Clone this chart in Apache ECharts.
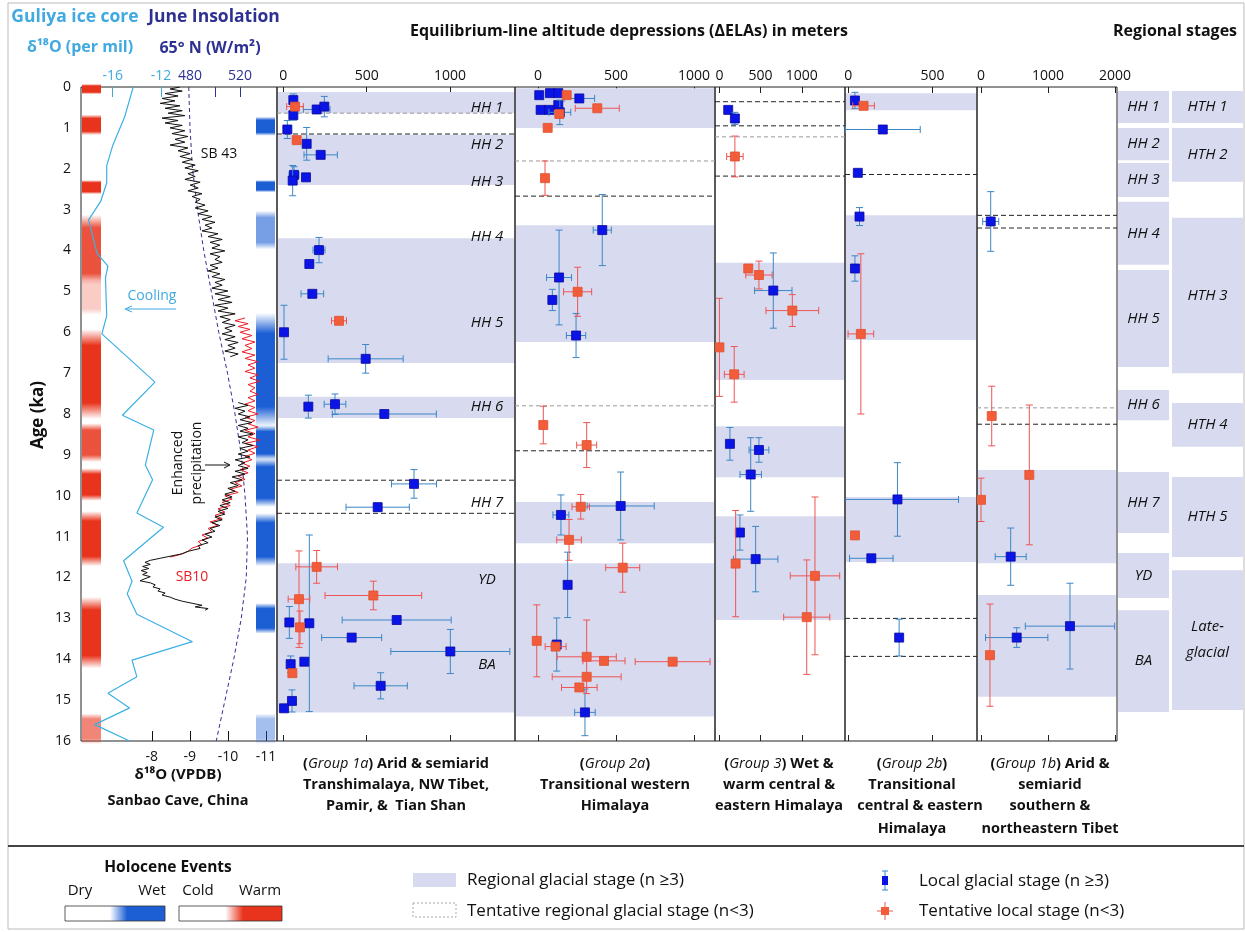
<!DOCTYPE html>
<html><head><meta charset="utf-8">
<script src="https://cdn.jsdelivr.net/npm/echarts@6/dist/echarts.min.js"></script>
<style>html,body{margin:0;padding:0;background:#fff}#c{width:1245px;height:932px}</style>
</head><body><div id="c"></div>
<script>
// ---------------- DATA ----------------
const ageTicksMax = 16;
// Guliya ice core d18O (per mil)
const guliyaAge = [0,0.72,1.43,1.93,2.35,2.8,3.25,4.07,4.38,4.67,5.6,6.04,7.22,8.03,8.39,9.25,9.61,10.42,10.77,11.59,12.09,12.4,12.9,13.57,14.02,14.43,14.83,15.19,15.6,16.0];
const guliyaD18O = [-14.3,-15.0,-16.0,-16.5,-16.5,-17.0,-18.0,-17.3,-16.4,-16.6,-16.5,-16.9,-12.5,-15.2,-12.6,-13.3,-12.7,-14.0,-11.8,-15.1,-14.4,-14.8,-14.0,-9.4,-14.4,-14.0,-16.4,-14.6,-17.5,-14.6];
// June insolation 65N (W/m2)
const insolAge = [0,1,2,3,4,5,6,7,8,9,10,11,12,13,14,15,16];
const insolJune65N = [479,480,482,486,491,497,503,510,516,521,524,526,525,521,515,508,501];
// Sanbao cave SB43 d18O (VPDB): [age, value] (two segments, record gap ~6.6-7.7 ka)
const sb43Late = [[0,-8.74],[0.05,-8.48],[0.1,-8.8],[0.16,-8.35],[0.22,-8.69],[0.28,-8.27],[0.34,-8.61],[0.4,-8.22],[0.46,-8.74],[0.52,-8.35],[0.58,-8.8],[0.64,-8.43],[0.7,-8.87],[0.76,-8.27],[0.82,-8.69],[0.88,-8.35],[0.94,-8.8],[1.0,-8.48],[1.07,-8.87],[1.14,-8.53],[1.21,-8.95],[1.28,-8.61],[1.35,-8.87],[1.42,-8.48],[1.49,-8.95],[1.56,-8.69],[1.63,-9.01],[1.7,-8.74],[1.77,-9.06],[1.84,-8.8],[1.91,-9.14],[1.98,-8.87],[2.05,-9.22],[2.12,-8.95],[2.19,-9.14],[2.26,-8.87],[2.33,-9.27],[2.4,-9.01],[2.47,-9.22],[2.54,-8.95],[2.61,-9.32],[2.68,-9.06],[2.75,-9.27],[2.82,-9.14],[2.89,-9.4],[2.96,-9.14],[3.03,-9.48],[3.1,-9.22],[3.17,-9.58],[3.24,-9.32],[3.31,-9.66],[3.38,-9.4],[3.45,-9.58],[3.52,-9.32],[3.59,-9.74],[3.66,-9.48],[3.73,-9.85],[3.8,-9.53],[3.87,-9.79],[3.94,-9.58],[4.01,-9.92],[4.08,-9.53],[4.15,-9.79],[4.22,-9.66],[4.29,-9.85],[4.36,-9.53],[4.43,-9.74],[4.5,-9.48],[4.57,-9.79],[4.64,-9.58],[4.71,-9.92],[4.78,-9.66],[4.85,-9.85],[4.92,-9.58],[4.99,-10.0],[5.06,-9.66],[5.13,-10.06],[5.2,-9.74],[5.27,-10.11],[5.34,-9.66],[5.41,-10.0],[5.48,-9.74],[5.55,-10.19],[5.62,-9.79],[5.69,-10.06],[5.76,-9.85],[5.83,-10.19],[5.9,-9.92],[5.97,-10.11],[6.04,-9.85],[6.11,-10.19],[6.18,-9.92],[6.25,-10.27],[6.32,-10.0],[6.39,-10.19],[6.46,-9.92],[6.53,-10.27],[6.6,-10.06]];
const sb43Early = [[7.72,-10.27],[7.79,-10.53],[7.86,-10.19],[7.93,-10.45],[8.0,-10.27],[8.07,-10.58],[8.14,-10.32],[8.21,-10.63],[8.28,-10.27],[8.35,-10.53],[8.42,-10.32],[8.49,-10.66],[8.56,-10.27],[8.63,-10.53],[8.7,-10.37],[8.77,-10.66],[8.84,-10.32],[8.91,-10.53],[8.98,-10.27],[9.05,-10.58],[9.12,-10.19],[9.19,-10.45],[9.26,-10.27],[9.33,-10.53],[9.4,-10.19],[9.47,-10.45],[9.54,-10.11],[9.61,-10.37],[9.68,-10.06],[9.75,-10.27],[9.82,-10.0],[9.89,-10.19],[9.96,-9.92],[10.03,-10.11],[10.1,-9.85],[10.17,-10.06],[10.24,-9.79],[10.31,-10.0],[10.38,-9.74],[10.45,-9.92],[10.52,-9.66],[10.59,-9.85],[10.66,-9.58],[10.73,-9.79],[10.8,-9.53],[10.87,-9.66],[10.94,-9.4],[11.01,-9.58],[11.08,-9.32],[11.15,-9.48],[11.22,-9.22],[11.29,-9.27],[11.36,-8.95],[11.42,-8.8],[11.48,-8.48],[11.53,-8.22],[11.58,-7.96],[11.63,-7.82],[11.68,-7.96],[11.73,-7.76],[11.78,-7.92],[11.83,-7.72],[11.88,-7.88],[11.93,-7.76],[11.98,-7.96],[12.03,-7.82],[12.08,-7.69],[12.13,-7.96],[12.18,-8.09],[12.23,-8.03],[12.28,-8.22],[12.33,-8.16],[12.38,-8.35],[12.43,-8.27],[12.48,-8.48],[12.53,-8.61],[12.58,-8.8],[12.63,-9.06],[12.68,-9.32],[12.72,-9.14],[12.76,-9.48],[12.8,-9.4]];
// Sanbao cave SB10 d18O (VPDB): [age, value]
const sb10 = [[5.65,-10.45],[5.72,-10.19],[5.79,-10.53],[5.86,-10.27],[5.93,-10.58],[6.0,-10.32],[6.08,-10.63],[6.16,-10.37],[6.24,-10.71],[6.32,-10.45],[6.4,-10.63],[6.48,-10.37],[6.56,-10.71],[6.64,-10.45],[6.72,-10.79],[6.8,-10.53],[6.88,-10.71],[6.96,-10.45],[7.04,-10.79],[7.12,-10.58],[7.2,-10.84],[7.28,-10.53],[7.36,-10.71],[7.44,-10.58],[7.52,-10.79],[7.6,-10.53],[7.68,-10.71],[7.76,-10.45],[7.84,-10.71],[7.92,-10.53],[8.0,-10.79],[8.08,-10.45],[8.16,-10.71],[8.24,-10.53],[8.32,-10.79],[8.4,-10.45],[8.48,-10.71],[8.56,-10.53],[8.64,-10.84],[8.72,-10.45],[8.8,-10.79],[8.88,-10.53],[8.96,-10.71],[9.04,-10.45],[9.12,-10.63],[9.2,-10.37],[9.28,-10.58],[9.36,-10.32],[9.44,-10.53],[9.52,-10.27],[9.6,-10.45],[9.68,-10.19],[9.76,-10.37],[9.84,-10.06],[9.92,-10.27],[10.0,-9.92],[10.08,-10.11],[10.16,-9.85],[10.24,-10.06],[10.32,-9.74],[10.4,-9.92],[10.48,-9.66],[10.56,-9.85],[10.64,-9.53],[10.72,-9.74],[10.8,-9.48],[10.88,-9.58],[10.96,-9.32],[11.04,-9.48],[11.12,-9.22],[11.2,-9.32],[11.28,-9.06],[11.36,-8.95],[11.44,-8.74],[11.5,-8.48]];
// Holocene events [startAge, endAge, strength]
const warmEvents = [[0,0.1,1],[0.75,1.1,1],[2.35,2.55,1],[3.2,4.8,0.85],[4.8,5.5,0.25],[6.0,8.05,1],[8.3,9.1,0.85],[9.4,10.05,1],[10.45,11.65,1],[12.55,14.15,1],[15.4,16,0.6]];
const wetEvents = [[0.8,1.12,1],[2.35,2.5,1],[3.1,3.9,0.6],[5.6,8.25,1],[8.35,9.05,1],[9.15,10.2,1],[10.5,11.65,1],[12.7,13.3,1],[15.4,16,0.4]];

// ELA points: [dELA (m), age (ka), dELA error, age error]
const g1aLocal = [[60,0.32,0,0.15],[60,0.69,0,0.12],[200,0.55,80,0],[246,0.48,0,0.25],[24,1.04,0,0.22],[140,1.39,0,0.4],[224,1.66,100,0],[64,2.15,30,0.2],[56,2.29,0,0.37],[136,2.21,0,0],[214,3.99,36,0.31],[156,4.33,0,0],[174,5.06,68,0],[4,6.0,0,0.66],[494,6.65,225,0.35],[150,7.82,0,0.28],[310,7.76,65,0.25],[606,8.0,312,0],[784,9.71,135,0.35],[566,10.28,190,0.1],[680,13.04,327,0],[36,13.1,0,0.39],[156,13.12,0,2.16],[410,13.47,180,0],[1002,13.81,357,0.54],[44,14.12,0,0.2],[126,14.06,0,0],[584,14.65,160,0.32],[52,15.02,0,0.27],[4,15.2,0,0]];
const g1aTentative = [[70,0.48,50,0],[80,1.3,0,0],[334,5.72,45,0],[200,11.74,125,0.4],[540,12.44,290,0.35],[94,12.53,65,1.18],[100,13.22,0,0.4],[54,14.34,0,0]];
const g2aLocal = [[8,0.2,0,0],[77,0.15,0,0],[130,0.15,0,0],[265,0.28,98,0],[17,0.56,0,0],[72,0.56,0,0],[130,0.44,0,0],[140,0.62,70,0.3],[412,3.5,58,0.87],[135,4.66,80,1.16],[92,5.21,0,0.26],[244,6.08,62,0.54],[530,10.25,215,0.83],[147,10.47,51,0.49],[190,12.18,0,0.8],[120,13.64,0,0.65],[301,15.3,66,0.57]];
const g2aTentative = [[184,0.2,0,0],[137,0.66,0,0],[380,0.52,141,0],[62,1.0,0,0],[45,2.23,0,0.42],[254,5.01,90,0.6],[34,8.27,0,0.46],[312,8.76,64,0.55],[274,10.27,56,0.3],[199,11.08,79,0.5],[543,11.76,109,0.6],[-8,13.55,0,0.88],[113,13.69,67,0],[312,13.94,190,0.9],[423,14.04,135,0],[863,14.06,240,0],[312,14.43,221,0],[265,14.69,114,0]];
const g3Local = [[107,0.56,0,0],[188,0.77,0,0.15],[654,4.98,227,0.92],[128,8.73,0,0.4],[480,8.88,120,0.3],[380,9.48,130,0.9],[249,10.9,0,0.43],[440,11.55,270,0.8]];
const g3Tentative = [[188,1.7,100,0.5],[350,4.44,0,0],[480,4.6,160,0.34],[885,5.47,320,0.39],[0,6.37,0,1.2],[180,7.03,120,0.68],[197,11.66,0,1.3],[1160,11.96,300,1.93],[1060,12.97,280,1.4]];
const g2bLocal = [[40,0.33,0,0.2],[205,1.04,222,0],[57,2.1,0,0],[67,3.17,0,0.22],[40,4.44,0,0.31],[292,10.09,362,0.9],[137,11.53,129,0],[302,13.47,0,0.45]];
const g2bTentative = [[91,0.46,64,0],[75,6.04,76,1.96],[40,10.97,0,0]];
const g1bLocal = [[145,3.29,120,0.73],[443,11.49,231,0.7],[1328,13.19,667,1.05],[533,13.47,465,0.24]];
const g1bTentative = [[160,8.05,0,0.73],[721,9.49,0,1.71],[0,10.1,0,0.53],[134,13.9,0,1.25]];

// Regional glacial stages [startAge, endAge] and tentative stage lines (age)
const g1aBands = [[0.12,0.64],[1.17,2.4],[3.7,6.75],[7.58,8.1],[11.65,15.3]];
const g1aDashed = [1.15,9.62,10.43];
const g1aFaint = [0.64];
const g2aBands = [[0.03,1.0],[3.38,6.24],[10.15,11.16],[11.65,15.4]];
const g2aDashed = [2.67,8.9];
const g2aFaint = [1.81,7.8];
const g3Bands = [[4.3,7.17],[8.3,9.55],[10.5,13.04]];
const g3Dashed = [0.36,0.95,2.18];
const g3Faint = [1.22];
const g2bBands = [[0.15,0.57],[3.14,6.19],[10.03,11.62]];
const g2bDashed = [2.14,13.0,13.93];
const g2bFaint = [];
const g1bBands = [[9.37,11.65],[12.43,14.92]];
const g1bDashed = [3.14,3.45,8.25];
const g1bFaint = [7.85];

// Stage labels in group 1a panel [label, age]
const g1aStageLabels = [['HH 1',0.51],['HH 2',1.42],['HH 3',2.32],['HH 4',3.67],['HH 5',5.77],['HH 6',7.83],['HH 7',10.18],['YD',12.06],['BA',14.14]];
// Regional stages [label, start, end]
const stagesHH = [['HH 1',0.1,0.88],['HH 2',1.0,1.79],['HH 3',1.86,2.69],['HH 4',2.81,4.35],['HH 5',4.48,6.85],['HH 6',7.41,8.15],['HH 7',9.42,10.91],['YD',11.4,12.5],['BA',12.8,15.29]];
const stagesHTH = [['HTH 1',0.1,0.88],['HTH 2',1.0,2.32],['HTH 3',3.2,7.0],['HTH 4',7.73,8.8],['HTH 5',9.54,11.5],['Late-\nglacial',11.82,15.24]];

// Tick labels
const guliyaTicks = [-16,-12];
const insolLabelTicks = [480,520];
const insolTicks = [500,520];
const sanbaoTicks = [-8,-9,-10,-11];
const elaTicks500 = [0,500,1000];
const elaTicks2b = [0,500];
const elaTicks1b = [0,1000,2000];

// ---------------- LAYOUT / STYLE ----------------
const FF = '"Open Sans", "DejaVu Sans", sans-serif';
const TOP = 87, H = 654;
const BAND = '#d8dbef';
const LIGHTBLUE = '#3fa9e0', NAVY = '#2e3192';
const fmt = v => String(v);
const panels = [
  {left:277, width:238, min:-38, max:1390, ticks:elaTicks500, local:g1aLocal, tent:g1aTentative, bands:g1aBands, dashed:g1aDashed, faint:g1aFaint},
  {left:515, width:200, min:-147.4, max:1134.6, ticks:elaTicks500, local:g2aLocal, tent:g2aTentative, bands:g2aBands, dashed:g2aDashed, faint:g2aFaint},
  {left:715, width:130, min:-53.4, max:1524.3, ticks:elaTicks500, local:g3Local, tent:g3Tentative, bands:g3Bands, dashed:g3Dashed, faint:g3Faint},
  {left:845, width:132, min:-19, max:763.5, ticks:elaTicks2b, local:g2bLocal, tent:g2bTentative, bands:g2bBands, dashed:g2bDashed, faint:g2bFaint},
  {left:977, width:140, min:-59.7, max:2029.9, ticks:elaTicks1b, local:g1bLocal, tent:g1bTentative, bands:g1bBands, dashed:g1bDashed, faint:g1bFaint}
];

const grids = [{left:81, top:TOP, width:196, height:H, show:true, borderColor:'#222', borderWidth:1, containLabel:false, outerBoundsMode:'none'}];
panels.forEach(p => grids.push({left:p.left, top:TOP, width:p.width, height:H, show:true, borderColor:'#222', borderWidth:1, containLabel:false, outerBoundsMode:'none'}));
grids.push({left:1117, top:TOP, width:128, height:H, show:false, containLabel:false, outerBoundsMode:'none'});

const yAxes = grids.map((g,i) => ({gridIndex:i, type:'value', min:0, max:ageTicksMax, interval:1, inverse:true, show:i===0,
  axisLine:{show:false}, axisTick:{show:false}, splitLine:{show:false},
  axisLabel:{fontSize:14, color:'#111', fontFamily:FF, margin:10, formatter:fmt}}));

const xAxes = [
  {gridIndex:0, type:'value', position:'top', min:-18.63, max:-2.39, axisLine:{show:false}, splitLine:{show:false},
   axisTick:{inside:true, length:10, customValues:guliyaTicks, lineStyle:{color:LIGHTBLUE}},
   axisLabel:{customValues:guliyaTicks, color:LIGHTBLUE, fontSize:14, fontFamily:FF, margin:4, formatter:fmt}},
  {gridIndex:0, type:'value', position:'top', min:392.8, max:549.6, axisLine:{show:false}, splitLine:{show:false},
   axisTick:{inside:true, length:10, customValues:insolTicks, lineStyle:{color:NAVY}},
   axisLabel:{customValues:insolLabelTicks, color:NAVY, fontSize:14, fontFamily:FF, margin:4, formatter:fmt}},
  {gridIndex:0, type:'value', position:'bottom', min:-11.29, max:-6.14, inverse:true, axisLine:{show:false}, splitLine:{show:false},
   axisTick:{inside:true, length:10, customValues:sanbaoTicks, lineStyle:{color:'#111'}},
   axisLabel:{customValues:sanbaoTicks, color:'#111', fontSize:14, fontFamily:FF, margin:9, formatter:fmt}}
];
panels.forEach((p,i) => {
  xAxes.push({gridIndex:i+1, type:'value', position:'top', min:p.min, max:p.max, axisLine:{show:false}, splitLine:{show:false},
    axisTick:{inside:true, length:6, customValues:p.ticks, lineStyle:{color:'#222'}},
    axisLabel:{customValues:p.ticks, color:'#111', fontSize:14, fontFamily:FF, margin:4, formatter:fmt}});
  xAxes.push({gridIndex:i+1, type:'value', position:'bottom', min:p.min, max:p.max, axisLine:{show:false}, splitLine:{show:false},
    axisTick:{inside:true, length:6, customValues:p.ticks, lineStyle:{color:'#222'}}, axisLabel:{show:false}});
});
xAxes.push({gridIndex:6, type:'value', min:0, max:1, show:false});

function hexRgba(hex, a){const n=parseInt(hex.slice(1),16);return `rgba(${n>>16},${(n>>8)&255},${n&255},${a})`;}

function eventRender(color, side){
  return function(params, api){
    const cs = params.coordSys;
    const y1 = api.coord([-10, api.value(1)])[1], y2 = api.coord([-10, api.value(2)])[1];
    const s = api.value(3);
    const x = side === 'left' ? cs.x + 1 : cs.x + cs.width - 21;
    const fill = new echarts.graphic.LinearGradient(0,0,0,1,[
      {offset:0, color:hexRgba(color,0)},{offset:0.18, color:hexRgba(color,s)},
      {offset:0.82, color:hexRgba(color,s)},{offset:1, color:hexRgba(color,0)}]);
    return {type:'rect', shape:{x:x, y:y1-3, width:19, height:(y2-y1)+6}, style:{fill:fill}};
  };
}
function bandRender(params, api){
  const cs = params.coordSys;
  const y1 = api.coord([0, api.value(1)])[1], y2 = api.coord([0, api.value(2)])[1];
  return {type:'rect', shape:{x:cs.x+1, y:y1, width:cs.width-2, height:y2-y1}, style:{fill:BAND}};
}
function lineRender(color, dash){
  return function(params, api){
    const cs = params.coordSys;
    const y = api.coord([0, api.value(1)])[1];
    return {type:'line', shape:{x1:cs.x, y1:y, x2:cs.x+cs.width, y2:y}, style:{stroke:color, lineWidth:1, lineDash:dash}};
  };
}
function pointRender(fill, stroke, errColor){
  return function(params, api){
    const x=api.value(0), y=api.value(1), ex=api.value(2), ey=api.value(3);
    const c=api.coord([x,y]); const cap=3.5; const kids=[];
    const ls=()=>({stroke:errColor, lineWidth:1});
    if(ex>0){const a=api.coord([x-ex,y])[0], b=api.coord([x+ex,y])[0];
      kids.push({type:'line',shape:{x1:a,y1:c[1],x2:b,y2:c[1]},style:ls()});
      kids.push({type:'line',shape:{x1:a,y1:c[1]-cap,x2:a,y2:c[1]+cap},style:ls()});
      kids.push({type:'line',shape:{x1:b,y1:c[1]-cap,x2:b,y2:c[1]+cap},style:ls()});}
    if(ey>0){const a=api.coord([x,y-ey])[1], b=api.coord([x,y+ey])[1];
      kids.push({type:'line',shape:{x1:c[0],y1:a,x2:c[0],y2:b},style:ls()});
      kids.push({type:'line',shape:{x1:c[0]-cap,y1:a,x2:c[0]+cap,y2:a},style:ls()});
      kids.push({type:'line',shape:{x1:c[0]-cap,y1:b,x2:c[0]+cap,y2:b},style:ls()});}
    kids.push({type:'rect',shape:{x:c[0]-4.5,y:c[1]-4.5,width:9,height:9},style:{fill:fill, stroke:stroke, lineWidth:0.8}});
    return {type:'group',children:kids};
  };
}

const series = [];
series.push({type:'custom', xAxisIndex:0, yAxisIndex:0, silent:true, z:1, renderItem:eventRender('#e8341c','left'),
  data:warmEvents.map(e=>[-10,e[0],e[1],e[2]]), encode:{x:0,y:1}});
series.push({type:'custom', xAxisIndex:0, yAxisIndex:0, silent:true, z:1, renderItem:eventRender('#1c5fd4','right'),
  data:wetEvents.map(e=>[-10,e[0],e[1],e[2]]), encode:{x:0,y:1}});
series.push({type:'line', xAxisIndex:0, yAxisIndex:0, silent:true, z:3, symbol:'none', lineStyle:{color:'#3cb0e4', width:1.2},
  data:guliyaAge.map((a,i)=>[guliyaD18O[i], a])});
series.push({type:'line', xAxisIndex:1, yAxisIndex:0, silent:true, z:3, symbol:'none', lineStyle:{color:NAVY, width:1, type:[4,3]},
  data:insolAge.map((a,i)=>[insolJune65N[i], a])});
series.push({type:'line', xAxisIndex:2, yAxisIndex:0, silent:true, z:4, symbol:'none', lineStyle:{color:'#ea1c24', width:1},
  data:sb10.map(d=>[d[1], d[0]])});
series.push({type:'line', xAxisIndex:2, yAxisIndex:0, silent:true, z:5, symbol:'none', lineStyle:{color:'#111', width:1},
  data:sb43Late.map(d=>[d[1], d[0]])});
series.push({type:'line', xAxisIndex:2, yAxisIndex:0, silent:true, z:5, symbol:'none', lineStyle:{color:'#111', width:1},
  data:sb43Early.map(d=>[d[1], d[0]])});

panels.forEach((p,i) => {
  const xi = 3 + 2*i, yi = i+1;
  series.push({type:'custom', xAxisIndex:xi, yAxisIndex:yi, silent:true, z:1, renderItem:bandRender, clip:true,
    data:p.bands.map(b=>[0,b[0],b[1]]), encode:{x:0,y:1}});
  series.push({type:'custom', xAxisIndex:xi, yAxisIndex:yi, silent:true, z:2, renderItem:lineRender('#999',[4,3]), clip:true,
    data:p.faint.map(a=>[0,a]), encode:{x:0,y:1}});
  series.push({type:'custom', xAxisIndex:xi, yAxisIndex:yi, silent:true, z:2, renderItem:lineRender('#222',[5,3]), clip:true,
    data:p.dashed.map(a=>[0,a]), encode:{x:0,y:1}});
  series.push({type:'custom', xAxisIndex:xi, yAxisIndex:yi, silent:true, z:4, renderItem:pointRender('#0b14e6','#0a0a9c','#3b86c6'), clip:true,
    data:p.local, encode:{x:0,y:1}});
  series.push({type:'custom', xAxisIndex:xi, yAxisIndex:yi, silent:true, z:5, renderItem:pointRender('#f25c3a','#e0502f','#ef5454'), clip:true,
    data:p.tent, encode:{x:0,y:1}});
});
series.push({type:'custom', xAxisIndex:3, yAxisIndex:1, silent:true, z:6,
  data:g1aStageLabels.map(s=>[0,s[1]]), encode:{x:0,y:1},
  renderItem:function(params, api){
    const cs=params.coordSys; const y=api.coord([0,api.value(1)])[1];
    return {type:'text', x:cs.x+cs.width-28, y:y, style:{text:g1aStageLabels[params.dataIndex][0], fill:'#111', font:'italic 15px '+FF, align:'center', verticalAlign:'middle', textAlign:'center', textVerticalAlign:'middle'}};
  }});
function stageRender(arr, x0, w){
  return function(params, api){
    const cs=params.coordSys;
    const y1=api.coord([0,api.value(1)])[1], y2=api.coord([0,api.value(2)])[1];
    return {type:'group', children:[
      {type:'rect', shape:{x:cs.x+x0, y:y1, width:w, height:y2-y1}, style:{fill:BAND}},
      {type:'text', x:cs.x+x0+w/2, y:(y1+y2)/2, style:{text:arr[params.dataIndex][0], fill:'#111', font:'italic 15px '+FF, align:'center', verticalAlign:'middle', textAlign:'center', textVerticalAlign:'middle', lineHeight:26}}
    ]};
  };
}
series.push({type:'custom', xAxisIndex:13, yAxisIndex:6, silent:true, z:2, renderItem:stageRender(stagesHH,1,51),
  data:stagesHH.map(s=>[0,s[1],s[2]]), encode:{x:0,y:1}});
series.push({type:'custom', xAxisIndex:13, yAxisIndex:6, silent:true, z:2, renderItem:stageRender(stagesHTH,55,71),
  data:stagesHTH.map(s=>[0,s[1],s[2]]), encode:{x:0,y:1}});

// ---------------- GRAPHIC TEXT ----------------
function T(x,y,text,font,fill,align,extra){
  return Object.assign({type:'text', x:x, y:y, silent:true, style:{text:text, font:font, fill:fill||'#111',
    align:align||'center', textAlign:align||'center', verticalAlign:'middle', textVerticalAlign:'middle'}}, extra||{});
}
const GF = 'bold 14.5px '+FF;
const richG = {n:{font:GF, fill:'#111'}, i:{font:'italic 14.5px '+FF, fill:'#111'}, b:{font:GF, fill:'#111'}};
function RT(x,y,text){return {type:'text', x:x, y:y, silent:true, style:{text:text, rich:richG, font:GF, fill:'#111', align:'center', textAlign:'center', verticalAlign:'middle', textVerticalAlign:'middle'}};}
const LF = '17px '+FF;
const graphics = [
  {type:'rect', silent:true, shape:{x:8, y:3, width:1236, height:926}, style:{fill:'none', stroke:'#bbb', lineWidth:1}},
  T(75,17,'Guliya ice core','bold 17.5px '+FF,LIGHTBLUE),
  T(80,47,'δ¹⁸O (per mil)','bold 16px '+FF,LIGHTBLUE),
  T(214,17,'June Insolation','bold 17.5px '+FF,NAVY),
  T(210,48,'65° N (W/m²)','bold 16px '+FF,NAVY),
  T(629,31,'Equilibrium-line altitude depressions (ΔELAs) in meters','bold 16px '+FF,'#111'),
  T(1175,31,'Regional stages','bold 16px '+FF,'#111'),
  T(38,415,'Age (ka)','bold 17px '+FF,'#111','center',{rotation:Math.PI/2}),
  T(178,775,'δ¹⁸O (VPDB)','bold 15px '+FF,'#111'),
  T(178,801,'Sanbao Cave, China','bold 14.5px '+FF,'#111'),
  T(219,154,'SB 43','14px '+FF,'#111'),
  T(152,296,'Cooling','14px '+FF,LIGHTBLUE),
  {type:'polyline', silent:true, shape:{points:[[176,309],[126,309]]}, style:{stroke:LIGHTBLUE, lineWidth:1}},
  {type:'polyline', silent:true, shape:{points:[[132,306],[125,309],[132,312]]}, style:{stroke:LIGHTBLUE, lineWidth:1, fill:'none'}},
  T(192,577,'SB10','14px '+FF,'#ea1c24'),
  T(178,463,'Enhanced','14px '+FF,'#111','center',{rotation:Math.PI/2}),
  T(197,463,'precipitation','14px '+FF,'#111','center',{rotation:Math.PI/2}),
  {type:'polyline', silent:true, shape:{points:[[205,465],[229,465]]}, style:{stroke:'#111', lineWidth:1}},
  {type:'polyline', silent:true, shape:{points:[[224,462],[230,465],[224,468]]}, style:{stroke:'#111', lineWidth:1, fill:'none'}},
  RT(396,764,'{n|(}{i|Group 1a}{n|)} {b|Arid & semiarid}'),
  T(396,785,'Transhimalaya, NW Tibet,',GF),
  T(396,806,'Pamir, &  Tian Shan',GF),
  RT(615,764,'{n|(}{i|Group 2a}{n|)}'),
  T(615,785,'Transitional western',GF),
  T(615,806,'Himalaya',GF),
  RT(779,764,'{n|(}{i|Group 3}{n|)} {b|Wet &}'),
  T(779,785,'warm central &',GF),
  T(779,806,'eastern Himalaya',GF),
  RT(912,764,'{n|(}{i|Group 2b}{n|)}'),
  T(912,785,'Transitional',GF),
  T(920,806,'central & eastern',GF),
  T(912,829,'Himalaya',GF),
  RT(1050,764,'{n|(}{i|Group 1b}{n|)} {b|Arid &}'),
  T(1050,785,'semiarid',GF),
  T(1050,806,'southern &',GF),
  T(1050,829,'northeastern Tibet',GF),
  {type:'line', silent:true, shape:{x1:8, y1:846, x2:1244, y2:846}, style:{stroke:'#444', lineWidth:2}},
  T(168,868,'Holocene Events','bold 15.5px '+FF),
  T(80,891,'Dry','15px '+FF), T(152,891,'Wet','15px '+FF), T(198,891,'Cold','15px '+FF), T(260,891,'Warm','15px '+FF),
  {type:'rect', silent:true, shape:{x:65,y:906,width:100,height:15}, style:{stroke:'#333', lineWidth:0.8,
    fill:new echarts.graphic.LinearGradient(0,0,1,0,[{offset:0,color:'#fff'},{offset:0.45,color:'#fff'},{offset:0.62,color:'#1c5fd4'},{offset:1,color:'#1c5fd4'}])}},
  {type:'rect', silent:true, shape:{x:179,y:906,width:103,height:15}, style:{stroke:'#333', lineWidth:0.8,
    fill:new echarts.graphic.LinearGradient(0,0,1,0,[{offset:0,color:'#fff'},{offset:0.45,color:'#fff'},{offset:0.62,color:'#e8341c'},{offset:1,color:'#e8341c'}])}},
  {type:'rect', silent:true, shape:{x:413,y:873,width:43,height:14}, style:{fill:BAND}},
  T(467,880,'Regional glacial stage (n ≥3)',LF,'#111','left'),
  {type:'rect', silent:true, shape:{x:413,y:903,width:43,height:14}, style:{fill:'none', stroke:'#aaa', lineWidth:1, lineDash:[2,2]}},
  T(467,911,'Tentative regional glacial stage (n<3)',LF,'#111','left'),
  {type:'line', silent:true, shape:{x1:885,y1:871,x2:885,y2:890}, style:{stroke:'#3b86c6', lineWidth:1}},
  {type:'line', silent:true, shape:{x1:882,y1:871,x2:888,y2:871}, style:{stroke:'#3b86c6', lineWidth:1}},
  {type:'line', silent:true, shape:{x1:882,y1:890,x2:888,y2:890}, style:{stroke:'#3b86c6', lineWidth:1}},
  {type:'rect', silent:true, shape:{x:882,y:876,width:6,height:9}, style:{fill:'#0b14e6'}},
  T(919,881,'Local glacial stage (n ≥3)',LF,'#111','left'),
  {type:'line', silent:true, shape:{x1:885,y1:902,x2:885,y2:920}, style:{stroke:'#ef5454', lineWidth:1}},
  {type:'line', silent:true, shape:{x1:877,y1:911,x2:893,y2:911}, style:{stroke:'#ef5454', lineWidth:1}},
  {type:'rect', silent:true, shape:{x:881,y:907,width:8,height:8}, style:{fill:'#f25c3a'}},
  T(919,911,'Tentative local stage (n<3)',LF,'#111','left')
];

const chart = echarts.init(document.getElementById('c'), null, {renderer:'canvas'});
chart.setOption({
  backgroundColor:'#fff', animation:false,
  textStyle:{fontFamily:FF},
  grid:grids, xAxis:xAxes, yAxis:yAxes, series:series, graphic:graphics
});
</script></body></html>
